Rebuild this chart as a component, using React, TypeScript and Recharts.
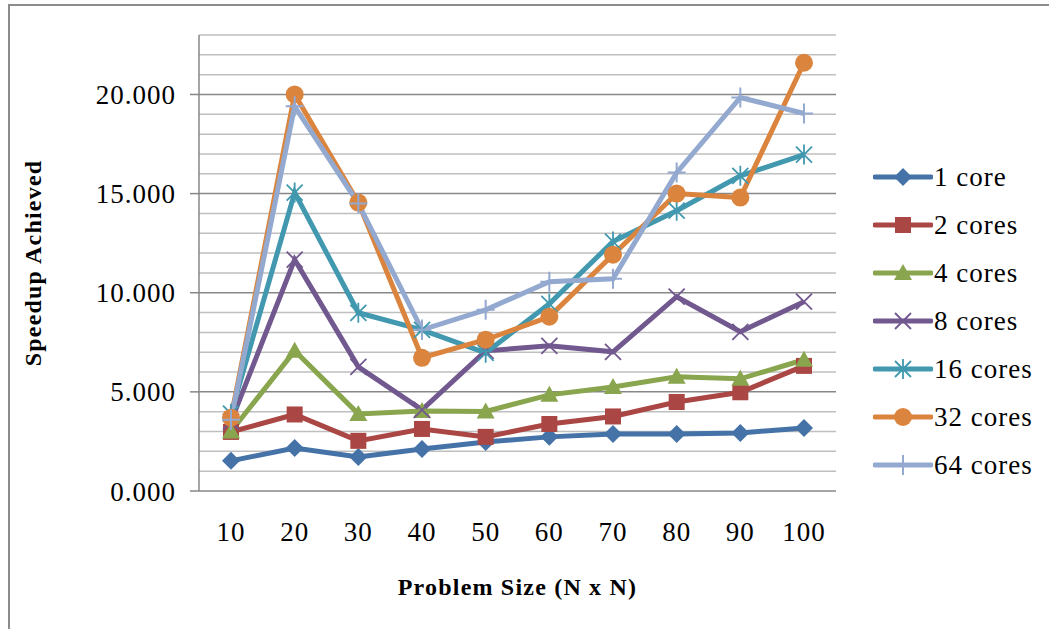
import { LineChart, Line, XAxis, YAxis, CartesianGrid, Label } from 'recharts'

const sizes = ['10', '20', '30', '40', '50', '60', '70', '80', '90', '100']
const oneCore = [1.52, 2.17, 1.72, 2.12, 2.47, 2.73, 2.88, 2.88, 2.93, 3.18]
const twoCores = [2.98, 3.86, 2.53, 3.13, 2.73, 3.38, 3.76, 4.49, 4.98, 6.31]
const fourCores = [3.0, 7.07, 3.89, 4.04, 4.01, 4.85, 5.25, 5.76, 5.66, 6.62]
const eightCores = [3.5, 11.67, 6.26, 4.09, 7.07, 7.32, 7.02, 9.8, 8.03, 9.55]
const sixteenCores = [3.9, 15.05, 8.99, 8.13, 6.97, 9.44, 12.58, 14.14, 15.9, 16.97]
const thirtyTwoCores = [3.7, 20.0, 14.55, 6.72, 7.63, 8.79, 11.92, 15.0, 14.8, 21.6]
const sixtyFourCores = [3.6, 19.4, 14.5, 8.13, 9.14, 10.56, 10.7, 16.06, 19.85, 19.04]
const yTicks = [0, 5, 10, 15, 20]
const minorTicks = [1, 2, 3, 4, 6, 7, 8, 9, 11, 12, 13, 14, 16, 17, 18, 19, 21, 22, 23]

type Shape = 'diamond' | 'square' | 'triangle' | 'x' | 'star' | 'circle' | 'plus'

const series: { key: string; name: string; color: string; shape: Shape; values: number[] }[] = [
  { key: 'c1', name: '1 core', color: '#4572A7', shape: 'diamond', values: oneCore },
  { key: 'c2', name: '2 cores', color: '#AA4643', shape: 'square', values: twoCores },
  { key: 'c4', name: '4 cores', color: '#89A54E', shape: 'triangle', values: fourCores },
  { key: 'c8', name: '8 cores', color: '#71588F', shape: 'x', values: eightCores },
  { key: 'c16', name: '16 cores', color: '#4198AF', shape: 'star', values: sixteenCores },
  { key: 'c32', name: '32 cores', color: '#DB843D', shape: 'circle', values: thirtyTwoCores },
  { key: 'c64', name: '64 cores', color: '#93A9CF', shape: 'plus', values: sixtyFourCores },
]

const data = sizes.map((size, i) => {
  const row: Record<string, string | number> = { size }
  series.forEach(s => { row[s.key] = s.values[i] })
  return row
})

const FONT = '"Liberation Serif", "DejaVu Serif", serif'

function marker(shape: Shape, cx: number, cy: number, color: string, key?: string | number) {
  switch (shape) {
    case 'diamond':
      return <path key={key} d={`M${cx},${cy - 9}L${cx + 9},${cy}L${cx},${cy + 9}L${cx - 9},${cy}Z`} fill={color} />
    case 'square':
      return <rect key={key} x={cx - 8} y={cy - 8} width={16} height={16} fill={color} />
    case 'triangle':
      return <path key={key} d={`M${cx},${cy - 9}L${cx + 9},${cy + 7}L${cx - 9},${cy + 7}Z`} fill={color} />
    case 'x':
      return <path key={key} d={`M${cx - 8},${cy - 8}L${cx + 8},${cy + 8}M${cx + 8},${cy - 8}L${cx - 8},${cy + 8}`} stroke={color} strokeWidth={1.8} />
    case 'star':
      return <path key={key} d={`M${cx - 8},${cy - 8}L${cx + 8},${cy + 8}M${cx + 8},${cy - 8}L${cx - 8},${cy + 8}M${cx},${cy - 10}L${cx},${cy + 10}`} stroke={color} strokeWidth={1.8} />
    case 'circle':
      return <circle key={key} cx={cx} cy={cy} r={9} fill={color} />
    default:
      return <path key={key} d={`M${cx - 9},${cy}L${cx + 9},${cy}M${cx},${cy - 10}L${cx},${cy + 10}`} stroke={color} strokeWidth={2} />
  }
}

const gridAt = (values: number[]) => (props: any) => {
  const { yAxis, offset } = props
  if (yAxis && typeof yAxis.scale === 'function') return values.map(v => yAxis.scale(v))
  return values.map(v => offset.top + offset.height * (1 - v / 23))
}

const tickStyle = { fill: '#000', fontSize: 27, fontFamily: FONT, letterSpacing: 1 }
const titleStyle = { fill: '#000', fontSize: 24, fontWeight: 'bold', fontFamily: FONT, letterSpacing: 1.2 }

export default function App() {
  return (
    <div style={{ position: 'absolute', left: 0, top: 0, width: 1049, height: 629, background: '#fff', overflow: 'hidden' }}>
      <div style={{ position: 'absolute', left: 8, top: 4, width: 1100, height: 700, borderTop: '2px solid #8c8c8c', borderLeft: '2px solid #8c8c8c' }} />
      <div style={{ position: 'absolute', left: 0, top: 0 }}>
        <LineChart width={1049} height={629} data={data} margin={{ top: 35, right: 213, bottom: 58, left: 0 }}>
          <CartesianGrid horizontal vertical={false} stroke="#bfbfbf" strokeWidth={1.5}
            horizontalCoordinatesGenerator={gridAt(minorTicks)} />
          <CartesianGrid horizontal vertical={false} stroke="#878787" strokeWidth={1.5}
            horizontalCoordinatesGenerator={gridAt([5, 10, 15, 20])} />
          <XAxis dataKey="size" height={80} tickLine={false} tickSize={8} tickMargin={23}
            padding={{ left: 32, right: 32 }}
            axisLine={{ stroke: '#878787', strokeWidth: 1.5 }}
            tick={tickStyle}>
            <Label value="Problem Size (N x N)" position="bottom" offset={7} style={titleStyle} />
          </XAxis>
          <YAxis type="number" domain={[0, 23]} ticks={yTicks} width={199} interval={0}
            tickFormatter={(v: number) => v.toFixed(3)} tickSize={9} tickMargin={14}
            axisLine={{ stroke: '#878787', strokeWidth: 1.5 }} tickLine={{ stroke: '#878787', strokeWidth: 1.5 }}
            tick={tickStyle}>
            <Label value="Speedup Achieved" position="center" angle={-90} dx={-67}
              style={{ ...titleStyle, textAnchor: 'middle' }} />
          </YAxis>
          {series.map(s => (
            <Line key={s.key} dataKey={s.key} name={s.name} stroke={s.color} strokeWidth={5}
              isAnimationActive={false}
              dot={(p: any) => marker(s.shape, p.cx, p.cy, s.color, `${s.key}-${p.index}`)}
              activeDot={false} />
          ))}
        </LineChart>
      </div>
      <div style={{ position: 'absolute', left: 873, top: 153, fontFamily: FONT, fontSize: 27, letterSpacing: 1, color: '#000' }}>
        {series.map(s => (
          <div key={s.key} style={{ display: 'flex', alignItems: 'center', height: 48 }}>
            <svg width={60} height={24} style={{ display: 'block' }}>
              <line x1={2} y1={12} x2={58} y2={12} stroke={s.color} strokeWidth={5} strokeLinecap="round" />
              {marker(s.shape, 30, 12, s.color)}
            </svg>
            <span style={{ marginLeft: 1, lineHeight: 1 }}>{s.name}</span>
          </div>
        ))}
      </div>
    </div>
  )
}
